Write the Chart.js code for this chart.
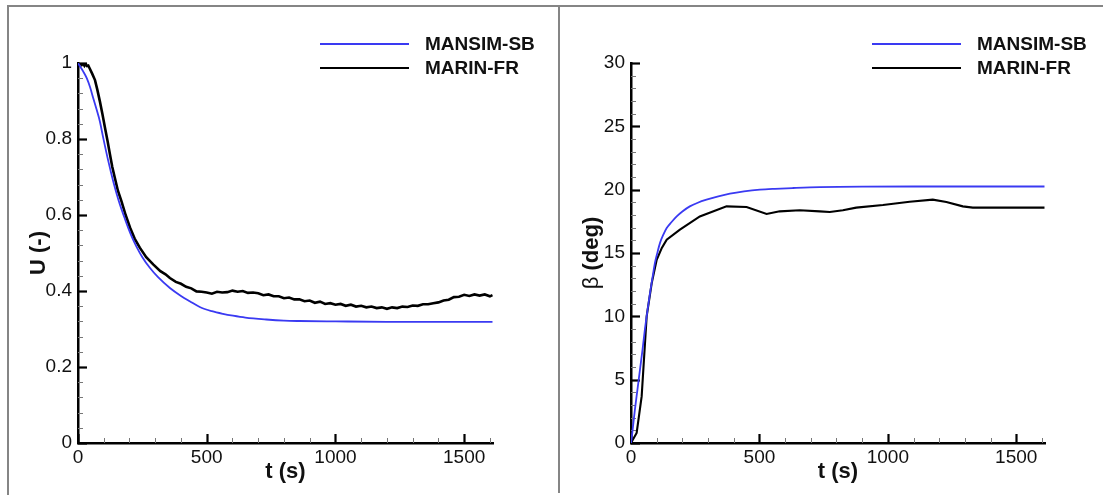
<!DOCTYPE html>
<html>
<head>
<meta charset="utf-8">
<script src="https://cdn.jsdelivr.net/npm/chart.js@4.4.1/dist/chart.umd.min.js"></script>
<style>
  html, body { margin: 0; padding: 0; background: #fff; }
  #wrap { position: relative; width: 1103px; height: 495px; overflow: hidden; background: #fff; }
  canvas { position: absolute; top: 0; }
  #cU { left: 0; }
  #cB { left: 551px; }
  .frame { position: absolute; border-color: #858585; border-style: solid; border-width: 0; }
</style>
</head>
<body>
<div id="wrap">
  <canvas id="cU" width="551" height="495"></canvas>
  <canvas id="cB" width="552" height="495"></canvas>
  <div class="frame" style="left:7px; top:5px; width:1096px; height:490px; border-left-width:2px; border-top-width:2px;"></div>
  <div class="frame" style="left:558px; top:5px; width:0; height:488px; border-left-width:2px;"></div>
</div>
<script>
// Speed U(-) and drift angle beta(deg) against time, MANSIM-SB vs MARIN-FR

const SERIES_NAMES = ['MANSIM-SB', 'MARIN-FR'];
const SERIES_COLORS = ['#3a3af2', '#000000'];

// --- U (-) panel ---
const tSimU = [0, 8, 20, 34, 47, 59, 72, 85, 98, 118, 137, 150, 163, 180, 195, 210, 227, 250, 279, 310, 357, 400, 434, 473, 520, 563, 602, 650, 731, 800, 860, 1000, 1200, 1400, 1610];
const uSim  = [1.0, 0.991, 0.978, 0.960, 0.936, 0.908, 0.878, 0.846, 0.803, 0.741, 0.688, 0.656, 0.627, 0.594, 0.566, 0.541, 0.517, 0.489, 0.461, 0.437, 0.408, 0.387, 0.373, 0.358, 0.347, 0.340, 0.335, 0.330, 0.325, 0.322, 0.321, 0.320, 0.319, 0.319, 0.319];

const tFrU = [0, 5, 10, 15, 20, 25, 30, 35, 40, 46, 55, 66, 75, 85, 95, 105, 115, 124, 133, 143, 155, 169, 185, 202, 220, 240, 265, 292, 320, 340, 357, 380,
  400, 420, 440, 460, 480, 500, 520, 540, 560, 580, 600, 620, 640, 660, 680, 700, 720, 740, 760, 780, 800, 820, 840, 860, 880, 900, 920, 940, 960, 980,
  1000, 1020, 1040, 1060, 1080, 1100, 1120, 1140, 1160, 1180, 1200, 1220, 1240, 1260, 1280, 1300, 1320, 1340, 1360, 1380, 1400, 1420, 1440, 1460, 1480,
  1500, 1520, 1540, 1560, 1580, 1600, 1610];
const uFr  = [1.000, 0.995, 1.000, 0.995, 0.999, 0.993, 0.998, 0.992, 0.993, 0.985, 0.972, 0.955, 0.930, 0.899, 0.865, 0.829, 0.794, 0.760, 0.727, 0.698, 0.664, 0.636, 0.600, 0.567, 0.538, 0.514, 0.489, 0.470, 0.452, 0.444, 0.434, 0.424,
  0.419, 0.411, 0.407, 0.399, 0.398, 0.396, 0.393, 0.398, 0.396, 0.397, 0.401, 0.398, 0.400, 0.395, 0.396, 0.394, 0.389, 0.391, 0.386, 0.386, 0.381, 0.383, 0.378, 0.378, 0.373, 0.375, 0.369, 0.372, 0.366, 0.368,
  0.364, 0.366, 0.361, 0.364, 0.359, 0.361, 0.357, 0.359, 0.355, 0.357, 0.353, 0.357, 0.355, 0.359, 0.358, 0.362, 0.361, 0.365, 0.365, 0.368, 0.370, 0.375, 0.377, 0.384, 0.385,
  0.390, 0.387, 0.391, 0.388, 0.391, 0.386, 0.389];

// --- beta (deg) panel ---
const tSimB = [0, 5, 15, 25, 35, 45, 54, 64, 74, 84, 93, 103, 113, 126, 139, 158, 178, 200, 229, 260, 294, 340, 385, 440, 502, 560, 631, 735, 900, 1200, 1610];
const bSim  = [0, 0.8, 2.6, 4.2, 5.8, 7.4, 8.95, 10.45, 11.84, 13.1, 14.2, 15.05, 15.8, 16.45, 16.97, 17.45, 17.89, 18.28, 18.68, 18.97, 19.21, 19.47, 19.68, 19.86, 20.0, 20.07, 20.13, 20.2, 20.24, 20.25, 20.25];

const tFrB = [0, 22, 41.5, 61, 80.5, 100, 120, 139, 190.5, 268, 372, 450, 528, 579, 657, 735, 774, 825, 877, 981, 1085, 1175, 1228, 1292, 1331, 1610];
const bFr  = [0, 0.79, 3.68, 10.0, 12.6, 14.47, 15.4, 16.05, 16.84, 17.89, 18.68, 18.63, 18.08, 18.29, 18.37, 18.29, 18.24, 18.37, 18.58, 18.79, 19.05, 19.21, 19.03, 18.68, 18.58, 18.58];

// axis settings
const T_MAX = 1612;
const T_STEP = 100, T_MAJOR = 500;
const U_MAX = 1, U_STEP = 0.04, U_MAJOR = 0.2;
const B_MAX = 30, B_STEP = 1, B_MAJOR = 5;

const FONT = "'Liberation Sans', Arial, sans-serif";

function pts(xs, ys) {
  return xs.map((x, i) => ({ x: x, y: ys[i] }));
}

function isMajor(v, major) {
  const r = v / major;
  return Math.abs(r - Math.round(r)) < 1e-6;
}

// tick marks drawn inward, long for major and short for minor ticks
const innerTicks = {
  id: 'innerTicks',
  beforeDatasetsDraw(chart, args, opts) {
    const ctx = chart.ctx;
    const area = chart.chartArea;
    const xs = chart.scales.x, ys = chart.scales.y;
    ctx.save();
    xs.ticks.forEach(t => {
      const maj = isMajor(t.value, opts.xMajor);
      const px = Math.round(xs.getPixelForValue(t.value)) + 0.5;
      ctx.beginPath();
      ctx.lineWidth = maj ? 2.2 : 1;
      ctx.strokeStyle = maj ? '#000' : '#777';
      ctx.moveTo(px, area.bottom);
      ctx.lineTo(px, area.bottom - (maj ? 9 : 5));
      ctx.stroke();
    });
    ys.ticks.forEach(t => {
      const maj = isMajor(t.value, opts.yMajor);
      const py = Math.round(ys.getPixelForValue(t.value)) + 0.5;
      ctx.beginPath();
      ctx.lineWidth = maj ? 2.2 : 1;
      ctx.strokeStyle = maj ? '#000' : '#777';
      ctx.moveTo(area.left, py);
      ctx.lineTo(area.left + (maj ? 9 : 5), py);
      ctx.stroke();
    });
    ctx.restore();
  }
};

// legend in the top right corner, line sample then bold label
const cornerLegend = {
  id: 'cornerLegend',
  afterDraw(chart) {
    const ctx = chart.ctx;
    const right = chart.chartArea.right;
    ctx.save();
    chart.data.datasets.forEach((ds, i) => {
      const y = 44 + i * 24;
      ctx.beginPath();
      ctx.strokeStyle = ds.borderColor;
      ctx.lineWidth = 2;
      ctx.moveTo(right - 173, y);
      ctx.lineTo(right - 84, y);
      ctx.stroke();
      ctx.fillStyle = '#111';
      ctx.font = 'bold 19px ' + FONT;
      ctx.textBaseline = 'middle';
      ctx.textAlign = 'left';
      ctx.fillText(ds.label, right - 68, y + 1);
    });
    ctx.restore();
  }
};

// y title with a plain greek letter followed by bold text
const mixedYTitle = {
  id: 'mixedYTitle',
  afterDraw(chart, args, opts) {
    if (!opts.parts) return;
    const ctx = chart.ctx;
    const area = chart.chartArea;
    ctx.save();
    ctx.translate(opts.x, (area.top + area.bottom) / 2);
    ctx.rotate(-Math.PI / 2);
    ctx.textBaseline = 'middle';
    ctx.textAlign = 'left';
    ctx.fillStyle = '#111';
    let total = 0;
    opts.parts.forEach(p => { ctx.font = p.font; total += ctx.measureText(p.text).width; });
    let x = -total / 2;
    opts.parts.forEach(p => {
      ctx.font = p.font;
      ctx.fillText(p.text, x, 0);
      x += ctx.measureText(p.text).width;
    });
    ctx.restore();
  }
};

function makeChart(id, cfg) {
  const datasets = cfg.series.map((s, i) => ({
    label: SERIES_NAMES[i],
    data: s,
    borderColor: SERIES_COLORS[i],
    borderWidth: i === 0 ? 1.8 : cfg.frWidth,
    pointRadius: 0,
    fill: false,
    cubicInterpolationMode: i === 0 ? 'monotone' : 'default',
    tension: 0
  }));

  return new Chart(document.getElementById(id), {
    type: 'line',
    data: { datasets: datasets },
    plugins: [innerTicks, cornerLegend, mixedYTitle],
    options: {
      responsive: false,
      animation: false,
      events: [],
      layout: { padding: { left: 0, right: cfg.padRight, top: 63, bottom: 0 } },
      plugins: {
        legend: { display: false },
        tooltip: { enabled: false },
        innerTicks: { xMajor: T_MAJOR, yMajor: cfg.yMajor },
        mixedYTitle: cfg.mixedTitle || {}
      },
      scales: {
        x: {
          type: 'linear',
          min: 0,
          max: T_MAX,
          grid: { display: false, drawTicks: false },
          border: { display: true, color: '#000', width: 2.5 },
          ticks: {
            stepSize: T_STEP,
            includeBounds: false,
            autoSkip: false,
            maxRotation: 0,
            padding: 3,
            color: '#111',
            font: { family: FONT, size: 19 },
            callback: v => isMajor(v, T_MAJOR) ? String(v) : ''
          },
          title: {
            display: true,
            text: 't (s)',
            color: '#111',
            font: { family: FONT, size: 22, weight: 'bold' },
            padding: { top: 0, bottom: 10 }
          },
          afterFit: s => { s.height = 52; }
        },
        y: {
          type: 'linear',
          min: 0,
          max: cfg.yMax,
          grid: { display: false, drawTicks: false },
          border: { display: true, color: '#000', width: 2.5 },
          ticks: {
            stepSize: cfg.yStep,
            maxTicksLimit: 100,
            autoSkip: false,
            padding: 6,
            color: '#111',
            font: { family: FONT, size: 19 },
            callback: v => isMajor(v, cfg.yMajor) ? String(+v.toFixed(1)) : ''
          },
          title: {
            display: !!cfg.yTitle,
            text: cfg.yTitle || '',
            color: '#111',
            font: { family: FONT, size: 22, weight: 'bold' },
            padding: { top: 26, bottom: 0 }
          },
          afterFit: s => { s.width = cfg.yWidth; }
        }
      }
    }
  });
}

makeChart('cU', {
  series: [pts(tSimU, uSim), pts(tFrU, uFr)],
  yMax: U_MAX, yStep: U_STEP, yMajor: U_MAJOR,
  yTitle: 'U (-)',
  yWidth: 78,
  padRight: 58,
  frWidth: 2.6
});

makeChart('cB', {
  series: [pts(tSimB, bSim), pts(tFrB, bFr)],
  yMax: B_MAX, yStep: B_STEP, yMajor: B_MAJOR,
  yTitle: null,
  yWidth: 80,
  padRight: 58,
  frWidth: 2.1,
  mixedTitle: {
    x: 41,
    parts: [
      { text: '\u03B2', font: '22px ' + FONT },
      { text: ' (deg)', font: 'bold 22px ' + FONT }
    ]
  }
});
</script>
</body>
</html>
